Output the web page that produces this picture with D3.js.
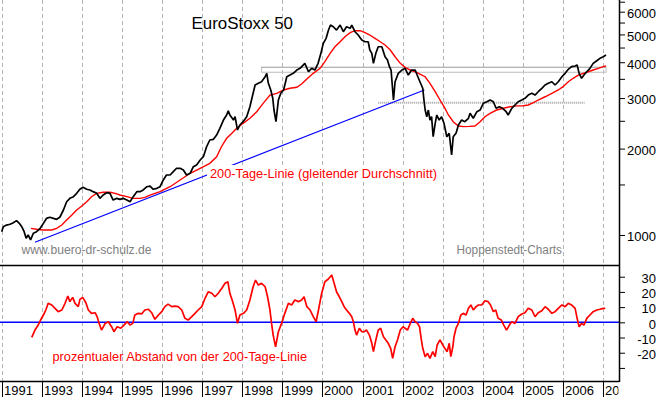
<!DOCTYPE html>
<html>
<head>
<meta charset="utf-8">
<script src="https://cdn.jsdelivr.net/npm/d3@7"></script>
<style>
  body { margin: 0; background: #fff; }
  svg { display: block; font-family: "Liberation Sans", Arial, sans-serif; }
</style>
</head>
<body>
<div id="chart"></div>
<script>
"use strict";

// [decimal year, index points]
const priceSeries = [
  [1992.00,1027],[1992.04,1069],[1992.12,1083],[1992.21,1090],[1992.29,1104],[1992.37,1122],
  [1992.44,1098],[1992.50,1069],[1992.56,1027],[1992.61,974],[1992.66,1000],[1992.72,961],
  [1992.79,1014],[1992.87,1027],[1992.96,1055],[1993.04,1098],[1993.12,1143],[1993.20,1153],
  [1993.29,1143],[1993.37,1134],[1993.45,1153],[1993.54,1222],[1993.62,1306],[1993.70,1342],
  [1993.79,1360],[1993.87,1397],[1993.95,1443],[1994.03,1466],[1994.12,1443],[1994.20,1435],
  [1994.28,1416],[1994.37,1397],[1994.45,1342],[1994.53,1378],[1994.62,1404],[1994.70,1397],
  [1994.78,1324],[1994.87,1342],[1994.95,1331],[1995.03,1342],[1995.12,1324],[1995.20,1306],
  [1995.28,1360],[1995.37,1416],[1995.45,1416],[1995.53,1435],[1995.62,1473],[1995.70,1481],
  [1995.78,1443],[1995.87,1454],[1995.95,1473],[1996.03,1555],[1996.11,1618],[1996.20,1618],
  [1996.28,1662],[1996.36,1708],[1996.45,1708],[1996.53,1685],[1996.61,1618],[1996.70,1641],
  [1996.78,1730],[1996.86,1754],[1996.95,1825],[1997.03,1874],[1997.11,2030],[1997.19,2143],
  [1997.28,2155],[1997.36,2230],[1997.44,2353],[1997.53,2515],[1997.61,2619],[1997.65,2711],
  [1997.69,2619],[1997.78,2515],[1997.82,2584],[1997.88,2322],[1997.94,2417],[1998.02,2482],
  [1998.11,2584],[1998.19,2799],[1998.27,3117],[1998.32,3332],[1998.40,3378],[1998.48,3420],
  [1998.57,3560],[1998.61,3659],[1998.65,3378],[1998.71,3201],[1998.76,2995],[1998.79,2726],
  [1998.84,2482],[1998.90,2954],[1998.96,3117],[1999.03,3201],[1999.11,3560],[1999.19,3609],
  [1999.27,3659],[1999.36,3757],[1999.44,3808],[1999.56,3964],[1999.65,3706],[1999.73,3808],
  [1999.81,3757],[1999.89,3964],[1999.96,4296],[2000.02,4655],[2000.09,4846],[2000.15,5178],
  [2000.20,5390],[2000.27,5318],[2000.35,5178],[2000.44,5390],[2000.52,5109],[2000.60,5318],
  [2000.69,5251],[2000.73,5390],[2000.81,5109],[2000.89,4976],[2000.98,4780],[2001.06,4715],
  [2001.14,4715],[2001.18,4411],[2001.23,4296],[2001.27,3964],[2001.33,4296],[2001.39,4529],
  [2001.48,4529],[2001.56,4181],[2001.62,4072],[2001.67,3859],[2001.71,3757],[2001.75,3201],
  [2001.77,2954],[2001.81,3420],[2001.89,3659],[2001.98,3757],[2002.06,3808],[2002.14,3609],
  [2002.22,3757],[2002.31,3757],[2002.36,3609],[2002.43,3420],[2002.50,3245],[2002.53,2954],
  [2002.56,2726],[2002.60,2584],[2002.64,2726],[2002.68,2515],[2002.72,2584],[2002.76,2200],
  [2002.81,2450],[2002.85,2619],[2002.91,2515],[2002.97,2584],[2003.03,2450],[2003.10,2200],
  [2003.16,2262],[2003.22,1900],[2003.26,2200],[2003.33,2262],[2003.39,2417],[2003.47,2515],
  [2003.55,2482],[2003.64,2551],[2003.68,2655],[2003.76,2551],[2003.85,2689],[2003.93,2726],
  [2004.01,2876],[2004.10,2913],[2004.18,2954],[2004.26,2913],[2004.33,2764],[2004.41,2799],
  [2004.49,2764],[2004.58,2689],[2004.63,2619],[2004.72,2764],[2004.80,2838],[2004.88,2913],
  [2004.97,2954],[2005.05,2995],[2005.13,3074],[2005.22,3117],[2005.30,3074],[2005.38,3157],
  [2005.47,3245],[2005.55,3332],[2005.63,3378],[2005.72,3420],[2005.80,3332],[2005.88,3420],
  [2005.97,3560],[2006.05,3659],[2006.13,3778],[2006.21,3859],[2006.30,3880],[2006.35,3912],
  [2006.40,3659],[2006.46,3516],[2006.52,3609],[2006.59,3706],[2006.67,3808],[2006.75,3964],
  [2006.84,4049],[2006.92,4127],[2007.00,4181],[2007.07,4239]
];

// 200-Tage-Linie, [decimal year, index points]
const ma200Series = [
  [1992.73,1055],[1992.87,1047],[1993.04,1041],[1993.25,1041],[1993.37,1055],[1993.50,1083],
  [1993.62,1128],[1993.75,1174],[1993.87,1222],[1994.00,1262],[1994.12,1306],[1994.24,1360],
  [1994.37,1397],[1994.53,1409],[1994.70,1409],[1994.83,1397],[1994.95,1378],[1995.12,1360],
  [1995.28,1342],[1995.45,1342],[1995.57,1353],[1995.70,1378],[1995.82,1397],[1995.95,1416],
  [1996.20,1473],[1996.45,1555],[1996.70,1641],[1996.95,1708],[1997.19,1777],[1997.36,1874],
  [1997.48,2030],[1997.61,2173],[1997.74,2262],[1997.86,2353],[1998.02,2450],[1998.19,2551],
  [1998.36,2689],[1998.52,2876],[1998.69,3074],[1998.86,3117],[1999.03,3201],[1999.19,3245],
  [1999.36,3271],[1999.48,3359],[1999.61,3495],[1999.77,3659],[1999.94,3808],[2000.06,4017],
  [2000.19,4296],[2000.31,4529],[2000.44,4715],[2000.56,4909],[2000.69,5069],[2000.81,5151],
  [2000.94,5151],[2001.06,5069],[2001.18,4976],[2001.31,4846],[2001.44,4715],[2001.56,4592],
  [2001.69,4411],[2001.81,4181],[2001.94,3964],[2002.06,3840],[2002.19,3757],[2002.31,3706],
  [2002.44,3630],[2002.56,3560],[2002.68,3378],[2002.81,3157],[2002.93,2954],[2003.03,2799],
  [2003.14,2619],[2003.26,2482],[2003.39,2398],[2003.51,2385],[2003.66,2390],[2003.80,2398],
  [2003.93,2482],[2004.05,2584],[2004.18,2655],[2004.34,2726],[2004.51,2764],[2004.68,2799],
  [2004.84,2818],[2005.01,2821],[2005.13,2838],[2005.26,2890],[2005.38,2954],[2005.55,3032],
  [2005.72,3117],[2005.88,3201],[2006.00,3287],[2006.13,3420],[2006.25,3516],[2006.38,3609],
  [2006.50,3659],[2006.63,3706],[2006.75,3757],[2006.88,3808],[2007.00,3859],[2007.07,3880]
];

// prozentualer Abstand von der 200-Tage-Linie, [decimal year, %]
const deviationSeries = [
  [1992.75,-9.9],[1992.83,-5.1],[1992.91,-1.8],[1992.97,1.5],[1993.04,4.8],[1993.10,8.1],
  [1993.16,12.5],[1993.25,11.4],[1993.33,9.2],[1993.41,7.0],[1993.50,8.1],[1993.58,12.5],
  [1993.65,17.3],[1993.70,13.6],[1993.77,16.4],[1993.83,12.5],[1993.91,10.3],[1993.95,15.1],
  [1994.02,16.4],[1994.10,12.9],[1994.16,8.1],[1994.24,5.9],[1994.33,6.3],[1994.38,3.7],
  [1994.43,-0.7],[1994.49,-5.1],[1994.58,-0.7],[1994.66,0.4],[1994.74,-2.9],[1994.80,-6.2],
  [1994.88,-2.9],[1994.97,-3.9],[1995.05,-1.8],[1995.13,0.4],[1995.20,-1.8],[1995.27,-0.7],
  [1995.32,4.8],[1995.41,5.9],[1995.49,5.5],[1995.57,8.1],[1995.66,8.6],[1995.74,6.3],
  [1995.82,2.0],[1995.91,4.8],[1995.99,7.0],[1996.07,10.3],[1996.15,12.0],[1996.24,10.3],
  [1996.32,10.7],[1996.40,10.3],[1996.49,8.1],[1996.57,2.6],[1996.65,1.5],[1996.74,3.7],
  [1996.82,5.9],[1996.90,8.1],[1996.99,10.3],[1997.07,15.8],[1997.15,20.1],[1997.24,19.1],
  [1997.32,16.8],[1997.40,19.1],[1997.49,22.4],[1997.57,25.7],[1997.64,26.7],[1997.69,19.1],
  [1997.76,13.6],[1997.82,8.1],[1997.88,-0.7],[1997.94,4.8],[1998.03,5.9],[1998.11,8.1],
  [1998.19,14.7],[1998.27,23.4],[1998.33,27.8],[1998.40,24.5],[1998.48,25.7],[1998.57,23.4],
  [1998.63,16.8],[1998.69,8.1],[1998.73,-0.7],[1998.77,-8.4],[1998.83,-16.1],[1998.90,-6.2],
  [1998.98,-0.7],[1999.06,5.9],[1999.15,12.5],[1999.23,11.4],[1999.31,14.7],[1999.40,13.6],
  [1999.48,14.7],[1999.54,16.8],[1999.61,10.3],[1999.69,8.1],[1999.77,3.7],[1999.84,0.4],
  [1999.90,8.1],[1999.98,19.1],[2000.06,26.7],[2000.14,28.3],[2000.23,31.1],[2000.29,25.7],
  [2000.35,20.1],[2000.42,16.8],[2000.48,13.6],[2000.54,10.3],[2000.60,8.1],[2000.67,5.9],
  [2000.73,3.7],[2000.77,0.4],[2000.81,-5.1],[2000.85,-8.4],[2000.92,-3.9],[2000.98,-6.2],
  [2001.04,-6.2],[2001.10,-5.1],[2001.17,-8.4],[2001.23,-13.8],[2001.27,-19.3],[2001.33,-11.6],
  [2001.39,-5.1],[2001.45,-3.9],[2001.52,-9.5],[2001.58,-11.6],[2001.64,-13.8],[2001.70,-17.1],
  [2001.75,-23.7],[2001.81,-16.1],[2001.87,-11.6],[2001.94,-5.1],[2002.01,-2.9],[2002.06,-3.9],
  [2002.12,-5.1],[2002.19,-0.7],[2002.25,2.6],[2002.31,0.4],[2002.37,-0.7],[2002.42,-2.9],
  [2002.46,-10.5],[2002.50,-17.1],[2002.56,-22.6],[2002.62,-20.4],[2002.68,-23.7],[2002.75,-19.3],
  [2002.81,-22.6],[2002.86,-14.9],[2002.93,-11.6],[2003.00,-14.9],[2003.05,-17.1],[2003.11,-19.3],
  [2003.16,-13.8],[2003.20,-22.6],[2003.25,-16.1],[2003.28,-9.5],[2003.33,-3.9],[2003.39,-0.7],
  [2003.45,4.8],[2003.51,5.9],[2003.58,4.8],[2003.64,9.2],[2003.70,11.4],[2003.76,8.1],
  [2003.83,10.3],[2003.89,11.4],[2003.97,11.4],[2004.05,14.2],[2004.13,13.6],[2004.19,11.4],
  [2004.26,7.0],[2004.32,8.1],[2004.38,2.6],[2004.46,1.5],[2004.52,-1.8],[2004.59,-5.1],
  [2004.66,-1.8],[2004.72,0.4],[2004.80,-0.7],[2004.88,3.7],[2004.97,5.5],[2005.05,6.3],
  [2005.13,9.2],[2005.22,8.1],[2005.30,3.7],[2005.38,6.3],[2005.47,7.6],[2005.55,10.3],
  [2005.63,8.6],[2005.72,5.9],[2005.80,7.0],[2005.88,9.2],[2005.97,11.4],[2006.05,10.3],
  [2006.13,12.5],[2006.21,11.4],[2006.30,9.2],[2006.35,2.6],[2006.40,-2.9],[2006.46,-0.7],
  [2006.52,-1.8],[2006.59,2.6],[2006.67,4.8],[2006.75,7.0],[2006.84,8.1],[2006.92,8.6],
  [2007.00,9.2],[2007.05,9.2]
];

// year gridlines and the labels printed under them (the source prints "1991" at the first one)
const tickYears = [1992,1993,1994,1995,1996,1997,1998,1999,2000,2001,2002,2003,2004,2005,2006,2007];
const tickLabels = ["1991","1993","1994","1995","1996","1997","1998","1999","2000","2001","2002","2003","2004","2005","2006","2007"];

const priceTicks = [1000, 2000, 3000, 4000, 5000, 6000];
const priceMinorTicks = [1500, 2500, 3500, 4500, 5500, 6500];
const devTicks = [30, 20, 10, 0, -10, -20, -30];
const devLabels = [30, 20, 10, 0, -10, -20];

// trend line [year, value] start and end
const trendLine = [[1992.83, 943], [2002.54, 3201]];
// resistance band: from year, to year, low, high
const resistanceBand = [1998.48, 2007.07, 3689, 3840];
// support level: from year, to year, value
const supportLevel = [2001.39, 2006.54, 2890];

const W = 660, H = 397;
const plotRight = 619;
const topY0 = 0, topY1 = 265, botY0 = 265, botY1 = 381;

const svg = d3.select("#chart").append("svg").attr("width", W).attr("height", H);
svg.append("rect").attr("width", W).attr("height", H).attr("fill", "#fff");

const x = d3.scaleLinear().domain([1991.958, 2007.394]).range([0, plotRight]);
const yPrice = d3.scaleLog().domain([786, 6590]).range([topY1, topY0]);
const yDev = d3.scaleLinear().domain([-38.6, 37.7]).range([botY1, botY0]);

svg.append("clipPath").attr("id", "plotclip")
  .append("rect").attr("x", 0).attr("y", 0).attr("width", plotRight - 0.5).attr("height", H);

// year gridlines through both panels
svg.append("g")
  .selectAll("line")
  .data(tickYears)
  .join("line")
  .attr("x1", (d) => Math.round(x(d)) + 0.5)
  .attr("x2", (d) => Math.round(x(d)) + 0.5)
  .attr("y1", 0)
  .attr("y2", botY1)
  .attr("stroke", "#b4b4b4")
  .attr("stroke-dasharray", "4,3");

// horizontal price levels
const rb = resistanceBand;
svg.append("rect")
  .attr("x", x(rb[0])).attr("y", yPrice(rb[3]))
  .attr("width", x(rb[1]) - x(rb[0])).attr("height", yPrice(rb[2]) - yPrice(rb[3]))
  .attr("fill", "none").attr("stroke", "#c8c8c8").attr("stroke-width", 1.2);
svg.append("line")
  .attr("x1", x(rb[0])).attr("x2", x(rb[1]))
  .attr("y1", yPrice(rb[3])).attr("y2", yPrice(rb[3]))
  .attr("stroke", "#909090").attr("stroke-dasharray", "1,1");
svg.append("line")
  .attr("x1", x(supportLevel[0])).attr("x2", x(supportLevel[1]))
  .attr("y1", yPrice(supportLevel[2])).attr("y2", yPrice(supportLevel[2]))
  .attr("stroke", "#a0a0a0").attr("stroke-width", 2).attr("stroke-dasharray", "1,1");

// trend line
svg.append("line")
  .attr("x1", x(trendLine[0][0])).attr("y1", yPrice(trendLine[0][1]))
  .attr("x2", x(trendLine[1][0])).attr("y2", yPrice(trendLine[1][1]))
  .attr("stroke", "#0000ff").attr("stroke-width", 1.2);

// 200-day label on white box, covering the trend line
const maLabel = svg.append("g");
maLabel.append("rect")
  .attr("x", 207).attr("y", 165).attr("width", 232).attr("height", 16).attr("fill", "#fff");
maLabel.append("text")
  .attr("x", 210).attr("y", 178)
  .attr("font-size", 13.5).attr("fill", "#ff0000")
  .attr("textLength", 227).attr("lengthAdjust", "spacingAndGlyphs")
  .text("200-Tage-Linie (gleitender Durchschnitt)");

const line = (yScale) => d3.line().x((d) => x(d[0])).y((d) => yScale(d[1]));

svg.append("path").datum(ma200Series)
  .attr("d", line(yPrice)).attr("fill", "none")
  .attr("stroke", "#ff0000").attr("stroke-width", 1.4);

svg.append("path").datum(priceSeries)
  .attr("d", line(yPrice)).attr("fill", "none")
  .attr("stroke", "#000").attr("stroke-width", 1.7).attr("stroke-linejoin", "bevel");

// lower panel
svg.append("line")
  .attr("x1", 0).attr("x2", plotRight).attr("y1", yDev(0)).attr("y2", yDev(0))
  .attr("stroke", "#0000ff").attr("stroke-width", 1.5);

svg.append("path").datum(deviationSeries)
  .attr("d", line(yDev)).attr("fill", "none")
  .attr("stroke", "#ff0000").attr("stroke-width", 1.7).attr("stroke-linejoin", "bevel");

// texts
svg.append("text").attr("x", 191.5).attr("y", 28.5).attr("font-size", 16.5).attr("fill", "#000")
  .attr("textLength", 101.5).attr("lengthAdjust", "spacingAndGlyphs")
  .text("EuroStoxx 50");
svg.append("text").attr("x", 21.5).attr("y", 254).attr("font-size", 12).attr("fill", "#808080")
  .attr("textLength", 130).attr("lengthAdjust", "spacingAndGlyphs")
  .text("www.buero-dr-schulz.de");
svg.append("text").attr("x", 456.5).attr("y", 254).attr("font-size", 12).attr("fill", "#808080")
  .attr("textLength", 105.5).attr("lengthAdjust", "spacingAndGlyphs")
  .text("Hoppenstedt-Charts");
svg.append("text").attr("x", 52.5).attr("y", 360.5).attr("font-size", 13).attr("fill", "#ff0000")
  .attr("textLength", 254.5).attr("lengthAdjust", "spacingAndGlyphs")
  .text("prozentualer Abstand von der 200-Tage-Linie");

// frame lines
svg.append("line").attr("x1", 0).attr("x2", plotRight).attr("y1", topY1 + 0.5).attr("y2", topY1 + 0.5)
  .attr("stroke", "#000").attr("stroke-width", 1.5);
svg.append("line").attr("x1", 0).attr("x2", plotRight).attr("y1", botY1 + 0.5).attr("y2", botY1 + 0.5)
  .attr("stroke", "#000").attr("stroke-width", 1.5);

// right axes
const priceAxis = d3.axisRight(yPrice).tickValues(priceTicks).tickSize(6).tickFormat(d3.format("d"));
const priceMinor = d3.axisRight(yPrice).tickValues(priceMinorTicks).tickSize(6).tickFormat("");
const devAxis = d3.axisRight(yDev).tickValues(devTicks).tickSize(6)
  .tickFormat((d) => (devLabels.includes(d) ? d : ""));

const styleAxis = (g) => {
  g.select(".domain").remove();
  g.selectAll("line").attr("stroke", "#000");
  g.selectAll("text")
    .attr("fill", "#000").attr("font-size", 13)
    .attr("text-anchor", "end").attr("x", 656 - plotRight).attr("dy", "0.45em");
};

svg.append("g").attr("transform", `translate(${plotRight},0)`).call(priceAxis).call(styleAxis)
  .attr("font-family", null);
svg.append("g").attr("transform", `translate(${plotRight},0)`).call(priceMinor).call(styleAxis);
svg.append("g").attr("transform", `translate(${plotRight},0)`).call(devAxis).call(styleAxis)
  .attr("font-family", null);

svg.append("line").attr("x1", plotRight + 0.5).attr("x2", plotRight + 0.5).attr("y1", 0).attr("y2", botY1 + 1)
  .attr("stroke", "#000").attr("stroke-width", 1.5);

// bottom year axis
const xAxis = svg.append("g").attr("clip-path", "url(#plotclip)");
xAxis.selectAll("line")
  .data(tickYears)
  .join("line")
  .attr("x1", (d) => Math.round(x(d)) + 0.5)
  .attr("x2", (d) => Math.round(x(d)) + 0.5)
  .attr("y1", botY1)
  .attr("y2", H)
  .attr("stroke", "#000");
xAxis.selectAll("text")
  .data(tickYears)
  .join("text")
  .attr("x", (d) => Math.round(x(d)) + 2)
  .attr("y", 395)
  .attr("font-size", 13)
  .attr("fill", "#000")
  .text((d, i) => tickLabels[i]);
</script>
</body>
</html>
